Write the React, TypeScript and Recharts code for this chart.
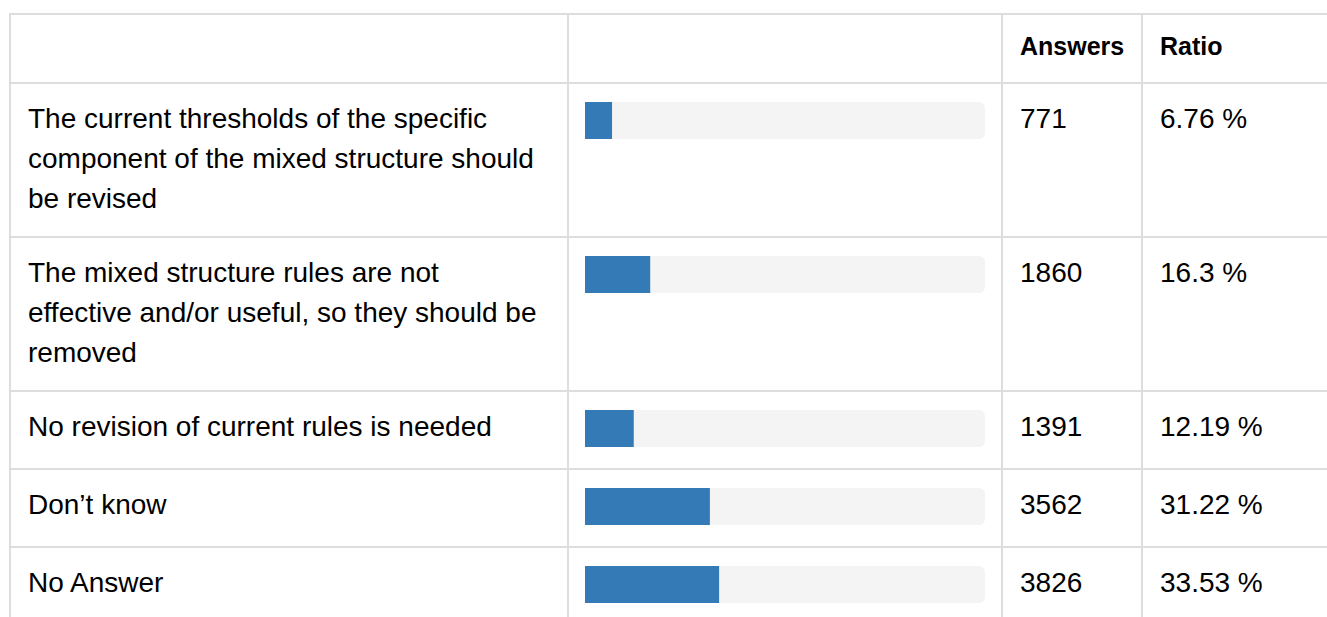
import React from "react";
import { BarChart, Bar, XAxis, YAxis } from "recharts";

const labels: string[] = [
  "The current thresholds of the specific component of the mixed structure should be revised",
  "The mixed structure rules are not effective and/or useful, so they should be removed",
  "No revision of current rules is needed",
  "Don’t know",
  "No Answer",
];
const answers: number[] = [771, 1860, 1391, 3562, 3826];
const ratios: number[] = [6.76, 16.3, 12.19, 31.22, 33.53];
const headers: string[] = ["", "", "Answers", "Ratio"];

const BORDER = "2px solid #dddddd";
const FONT = '"Liberation Sans", Arial, Helvetica, sans-serif';

const cellBase: React.CSSProperties = {
  boxSizing: "border-box",
  borderRight: BORDER,
  borderBottom: BORDER,
  fontSize: 28,
  lineHeight: "40px",
  color: "#000",
  overflow: "hidden",
};

const textCell: React.CSSProperties = {
  ...cellBase,
  padding: "15px 24px 0 17px",
};

function RowBar({ label, ratio }: { label: string; ratio: number }) {
  const data = [{ label, ratio }];
  return (
    <BarChart
      width={400}
      height={41}
      data={data}
      layout="vertical"
      margin={{ top: 0, right: 0, bottom: 0, left: 0 }}
      barCategoryGap={0}
    >
      <XAxis type="number" domain={[0, 100]} hide />
      <YAxis type="category" dataKey="label" hide width={0} />
      <Bar
        dataKey="ratio"
        fill="#337ab7"
        barSize={41}
        background={{ fill: "#f4f4f4", radius: 6 }}
        isAnimationActive={false}
      />
    </BarChart>
  );
}

export default function App() {
  return (
    <div
      style={{
        position: "absolute",
        left: 0,
        top: 0,
        width: 1327,
        height: 617,
        overflow: "hidden",
        background: "#fff",
        fontFamily: FONT,
      }}
    >
      <div
        style={{
          position: "absolute",
          left: 9,
          top: 13,
          display: "grid",
          gridTemplateColumns: "558px 434px 140px 200px",
          gridTemplateRows: "69px 154px 154px 78px 78px 78px",
          borderTop: BORDER,
          borderLeft: BORDER,
          boxSizing: "content-box",
        }}
      >
        {headers.map((h, i) => (
          <div
            key={"h" + i}
            style={{ ...textCell, paddingTop: 11, fontSize: 25, fontWeight: "bold" }}
          >
            {h}
          </div>
        ))}
        {labels.map((label, i) => (
          <React.Fragment key={"r" + i}>
            <div style={textCell}>{label}</div>
            <div style={{ ...cellBase, padding: "16px 0 0 16px" }}>
              <RowBar label={label} ratio={ratios[i]} />
            </div>
            <div style={textCell}>{answers[i]}</div>
            <div style={textCell}>{String(ratios[i]) + " %"}</div>
          </React.Fragment>
        ))}
      </div>
    </div>
  );
}
